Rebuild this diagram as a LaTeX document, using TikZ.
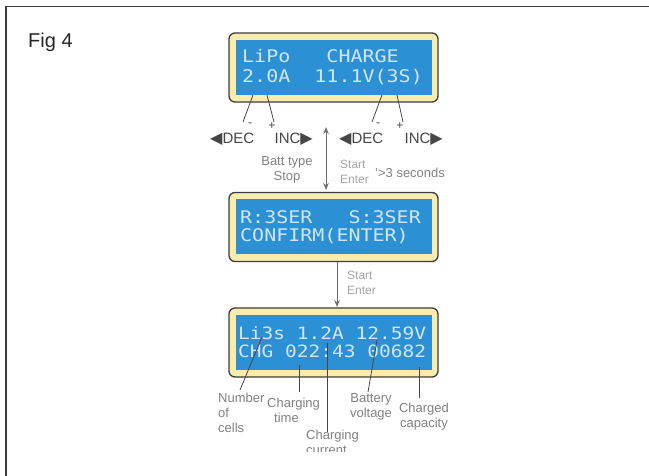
\documentclass[tikz,border=0pt]{standalone}
\usepackage{fontspec}
\usepackage{graphicx}
\setmainfont{Liberation Sans}
\newfontfamily\lcdfont{DejaVu Sans Mono}
\newfontfamily\symfont{DejaVu Sans}
\usetikzlibrary{arrows.meta}
\definecolor{lcdblue}{RGB}{44,145,212}
\definecolor{cream}{RGB}{250,236,172}
\definecolor{lcdtext}{RGB}{208,230,246}
\definecolor{framec}{RGB}{60,60,60}
\definecolor{lblc}{RGB}{130,130,130}
\definecolor{lightlbl}{RGB}{165,165,165}
\definecolor{keyc}{RGB}{70,70,70}
\newcommand\lcdtxt[1]{\scalebox{1}[0.87]{#1}}
\begin{document}
\begin{tikzpicture}[x=1pt,y=-1pt,
  panel/.style={draw=framec, line width=1.3pt, fill=cream, rounded corners=6pt,
    minimum width=209pt, minimum height=69pt, inner sep=0},
  screen/.style={fill=lcdblue, minimum width=196pt, minimum height=55pt, inner sep=0},
  lcdline/.style={anchor=base west, inner sep=0, text=lcdtext,
    font=\lcdfont\fontsize{20}{20}\selectfont},
  callout/.style={draw=keyc, line width=0.8pt},
  lbl/.style={text=lblc, font=\fontsize{13}{15}\selectfont, inner sep=0},
  lightlbl/.style={text=lightlbl, font=\fontsize{12}{15}\selectfont, inner sep=0},
  keylbl/.style={text=keyc, font=\fontsize{15}{15}\selectfont, inner sep=0},
  pm/.style={text=keyc, font=\fontsize{12}{12}\selectfont, inner sep=0},
  garrow/.style={draw=lblc!85!black, line width=1pt, >={Stealth[length=7pt,width=5.5pt]}}
]
\useasboundingbox (0,0) rectangle (649,476);
\fill[white] (0,0) rectangle (649,476);
% frame
\coordinate (fbl) at (6,476);
\coordinate (ftl) at (6,6.5);
\coordinate (ftr) at (649,6.5);
\draw[framec, line width=1.5pt] (fbl) -- (ftl) -- (ftr);
\node[anchor=west, inner sep=0, font=\fontsize{20}{20}\selectfont, text=black!85] (fig) at (28,42) {Fig 4};

% panel 1
\node[panel] (p1) at (333.5,67.5) {};
\node[screen] (s1) at (p1.center) {};
\node[lcdline] (t1a) at (242,63) {\lcdtxt{LiPo~~~CHARGE}};
\node[lcdline] (t1b) at (242,83) {\lcdtxt{2.0A~~11.1V(3S)}};

% panel 2
\node[panel] (p2) at (333.5,227) {};
\node[screen] (s2) at (p2.center) {};
\node[lcdline] (t2a) at (240,224) {\lcdtxt{R:3SER~~~S:3SER}};
\node[lcdline] (t2b) at (240,242) {\lcdtxt{CONFIRM(ENTER)}};

% panel 3
\node[panel] (p3) at (333.5,342.5) {};
\node[screen] (s3) at (p3.center) {};
\node[lcdline, font=\lcdfont\fontsize{19.5}{20}\selectfont] (t3a) at (238,339) {\lcdtxt{Li3s~1.2A~12.59V}};
\node[lcdline, font=\lcdfont\fontsize{19.5}{20}\selectfont] (t3b) at (238,357) {\lcdtxt{CHG~022:43~00682}};

% DEC / INC callouts of panel 1
\coordinate (c1a) at (253,95);  \coordinate (c1b) at (243,122);
\coordinate (c2a) at (267,95);  \coordinate (c2b) at (274,122);
\coordinate (c3a) at (382,95);  \coordinate (c3b) at (372,122);
\coordinate (c4a) at (397,95);  \coordinate (c4b) at (403,122);
\draw[callout] (c1a) -- (c1b);
\draw[callout] (c2a) -- (c2b);
\draw[callout] (c3a) -- (c3b);
\draw[callout] (c4a) -- (c4b);
\node[pm] (m1) at (250,125) {-};
\node[pm] (pl1) at (272,126) {+};
\node[pm] (m2) at (378,125) {-};
\node[pm] (pl2) at (400,126) {+};
\node[keylbl, anchor=base west] (dec1) at (210,144) {{\symfont\fontsize{16}{16}\selectfont ◀}DEC};
\node[keylbl, anchor=base east] (inc1) at (313,144) {INC{\symfont\fontsize{16}{16}\selectfont ▶}};
\node[keylbl, anchor=base west] (dec2) at (339,144) {{\symfont\fontsize{16}{16}\selectfont ◀}DEC};
\node[keylbl, anchor=base east] (inc2) at (443,144) {INC{\symfont\fontsize{16}{16}\selectfont ▶}};

\node[lbl, align=center] (batt) at (287,169.5) {Batt type\\Stop};

% arrow 1 -> 2
\coordinate (d1) at (326,127);
\coordinate (d2) at (326,190);
\draw[garrow, <->] (d1) -- (d2);
\node[lightlbl, align=left, anchor=west] (se1) at (340,171.5) {Start\\Enter};
\node[lbl, anchor=west] (sec) at (375,173) {'>3 seconds};

% arrow 2 -> 3
\coordinate (e1) at (337,262.5);
\coordinate (e2) at (337,307);
\draw[garrow, ->] (e1) -- (e2);
\node[lightlbl, align=left, anchor=west] (se2) at (347,283) {Start\\Enter};

% panel 3 callouts
\coordinate (n1a) at (262,337); \coordinate (n1b) at (240,390);
\draw[callout] (n1a) -- (n1b);
\node[lbl, align=left, anchor=north west] (ncells) at (218,393) {Number\\of\\cells};

\coordinate (n2a) at (299,365); \coordinate (n2b) at (299,392);
\draw[callout] (n2a) -- (n2b);
\node[lbl, align=left, anchor=north west] (ctime) at (267,398) {Charging\\\hspace*{7pt}time};

\coordinate (n3a) at (327,343); \coordinate (n3b) at (327,432);
\draw[callout] (n3a) -- (n3b);
\begin{scope}
\clip (290,420) rectangle (400,451);
\node[lbl, align=left, anchor=north west] (ccur) at (306,430) {Charging\\current};
\end{scope}

\coordinate (n4a) at (377,340); \coordinate (n4b) at (368,392);
\draw[callout] (n4a) -- (n4b);
\node[lbl, align=center, anchor=north] (bvolt) at (371,393) {Battery\\voltage};

\coordinate (n5a) at (419,367); \coordinate (n5b) at (419,398);
\draw[callout] (n5a) -- (n5b);
\node[lbl, align=center, anchor=north] (ccap) at (424,403) {Charged\\capacity};
\end{tikzpicture}
\end{document}
